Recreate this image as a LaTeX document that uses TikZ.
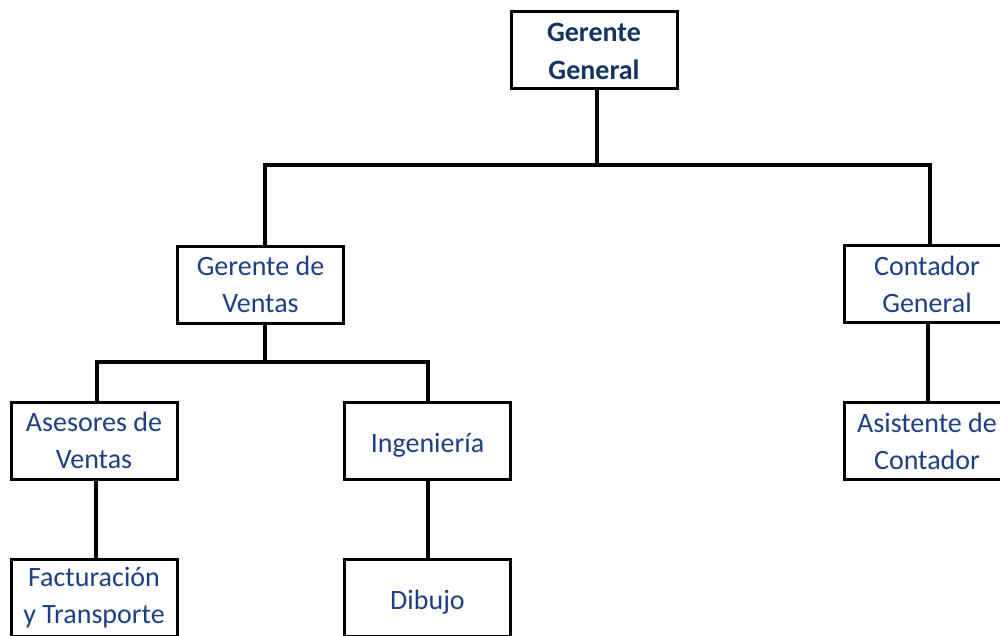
\documentclass[tikz,border=0pt]{standalone}
\usepackage{fontspec}
\setmainfont{Carlito}
\definecolor{boxtext}{RGB}{32,62,130}
\definecolor{titletext}{RGB}{22,52,96}
% lower a text inside its box without changing the box's size
\newcommand{\lowertext}[2]{\raisebox{-#1}[\height][\depth]{#2}}
\begin{document}
\begin{tikzpicture}[x=1pt,y=-1pt,
  orgbox/.style={draw=black, line width=3pt, fill=white,
    minimum width=166pt, minimum height=77pt, inner sep=0pt,
    align=center, text=boxtext, font=\fontsize{28}{37}\selectfont},
  titlebox/.style={orgbox, text=titletext, font=\bfseries\fontsize{28}{38}\selectfont},
  link/.style={draw=black, line width=4pt}]
\useasboundingbox (0,0) rectangle (1000,636);
\clip (0,0) rectangle (1000,636);

% boxes of the chart
\node[titlebox] (gg)  at (594,50)
  {\lowertext{3pt}{\begin{tabular}{@{}c@{}}Gerente\\General\end{tabular}}};
\node[orgbox]   (gv)  at (260.5,284.5) {Gerente de\\Ventas};
\node[orgbox]   (cg)  at (927,284)    {Contador\\General};
\node[orgbox]   (av)  at (94,440.5)   {Asesores de\\Ventas};
\node[orgbox]   (ing) at (427.5,440.5) {\lowertext{5pt}{Ingeniería}};
\node[orgbox]   (ac)  at (927,441)    {Asistente de\\Contador};
\node[orgbox]   (ft)  at (94,597.5)   {Facturación\\y Transporte};
\node[orgbox]   (dib) at (427.5,597.5) {\lowertext{5pt}{Dibujo}};

% branching points of the tree
\coordinate (bus1) at (597,165);
\coordinate (bus2) at (265,362);

% connectors
\draw[link] (gg.south -| bus1) -- (bus1);
\draw[link] (gv.north -| bus2) |- (bus1) -| ([xshift=3pt]cg.north);
\draw[link] (gv.south -| bus2) -- (bus2);
\draw[link] ([xshift=3pt]av.north) |- (bus2) -| (ing.north);
\draw[link] ([xshift=2pt]av.south) -- ([xshift=2pt]ft.north);
\draw[link] (ing.south) -- (dib.north);
\draw[link] ([xshift=1pt]cg.south) -- ([xshift=1pt]ac.north);
\end{tikzpicture}
\end{document}
